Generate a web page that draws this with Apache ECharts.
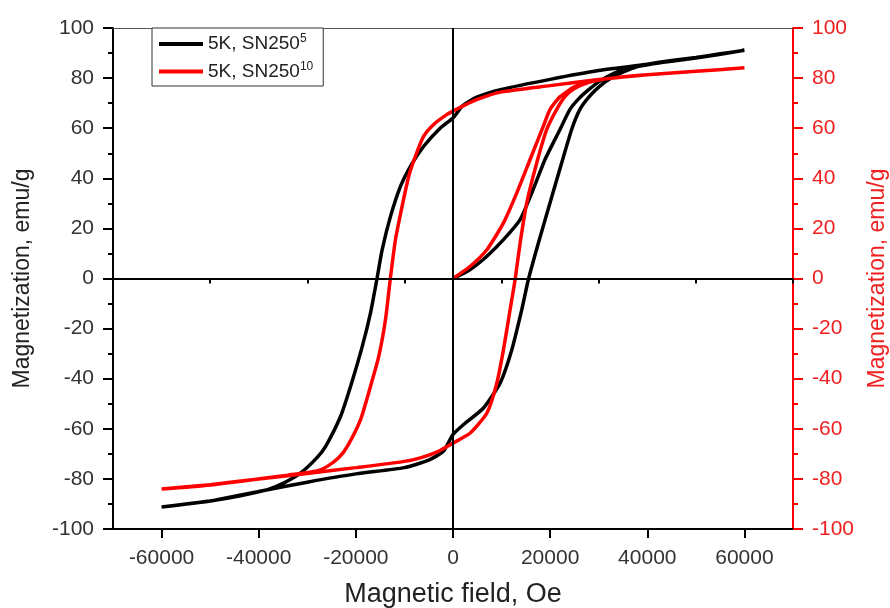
<!DOCTYPE html>
<html>
<head>
<meta charset="utf-8">
<script src="https://cdn.jsdelivr.net/npm/echarts@6/dist/echarts.min.js"></script>
<style>
html,body{margin:0;padding:0;background:#fff;}
#chart{width:890px;height:608px;}
</style>
</head>
<body>
<div id="chart"></div>
<script>
// ---- data (field in Oe, magnetization in emu/g), measured path: virgin -> descending -> ascending
const sn5Field = [0,3550,6980,10390,13820,16220,18950,22030,24080,26000,28000,30000,33000,36000,40000,45000,50000,55000,60000,
  50000,40000,30000,20000,10000,5000,2000,0,-2600,-6030,-8770,-10820,-12870,-14580,-15600,-16980,-18680,-21080,-23140,-26220,-28000,-31350,-35000,-38190,-44000,-50000,-55000,-60000,
  -50000,-40000,-30000,-20000,-10000,-5000,-2000,0,2180,6280,9710,12110,14160,15520,17580,19980,22380,24430,26130,28000,30240,33000,36000,38500,45000,50000,55000,60000];
const sn5Mag = [0,3.6,8.9,15.5,23.5,34.2,47.5,59.5,67.5,72,75.5,78.5,81.8,84,85.5,87,88.2,89.7,91.1,
  88,85.5,83,79.5,75.5,72.5,69,64.1,60.1,52.8,44.8,36.8,24.8,11.5,0.5,-13.7,-27.1,-43,-55,-67,-71.5,-77.6,-81.8,-84.3,-86.8,-88.8,-90,-91.2,
  -88.8,-85,-81.3,-78,-75.5,-72.5,-69,-62.3,-58.3,-51.7,-41.7,-28.4,-12.4,-0.4,14.2,30.2,46.2,59.5,67.5,72.5,76.8,80.5,83.2,84.8,86.8,88.2,89.7,91.1];

const sn10Field = [0,3550,6980,10390,13140,15870,18600,19980,22000,25000,28000,32000,40000,50000,60000,
  50000,40000,30000,20000,10000,5000,2000,0,-1230,-3980,-6030,-7740,-9110,-10480,-11850,-12870,-13900,-15270,-16980,-19030,-21760,-23500,-25870,-28000,-34000,-44000,-52000,-60000,
  -50000,-40000,-30000,-20000,-10000,-6720,-3000,0,3550,6980,9030,10390,11760,12790,13820,15190,17250,19300,21350,23000,25000,28000,32000,40000,50000,60000];
const sn10Mag = [0,4.9,11.5,22.2,34.2,47.5,60.8,67.5,72.5,76.5,78.5,79.8,81.3,82.7,84.1,
  82.7,81.3,79.4,77,74.5,71.5,68.8,66.8,65.5,61.5,56.8,48.8,40.8,28.8,15.5,0.5,-16.4,-31,-43,-56.3,-67,-71.5,-75,-76.8,-78.5,-81,-82.8,-84,
  -82.3,-80,-77.8,-75.5,-73,-71.6,-69,-65.7,-61.7,-53.7,-41.7,-28.4,-12.4,-0.4,14.2,30.2,46.2,59.5,67.5,72.5,75.8,78.3,79.8,81.3,82.7,84.1];

const xMajorTicks = [-60000,-40000,-20000,0,20000,40000,60000];
const xMinorTicks = [-70000,-50000,-30000,-10000,10000,30000,50000,70000];
const seriesNames = ['5K, SN250^5','5K, SN250^10'];
const legendSup = ['5','10'];

const zip = (a,b) => a.map((v,i)=>[v,b[i]]);

const chart = echarts.init(document.getElementById('chart'), null, {renderer:'canvas'});
const FONT = 'Liberation Sans, Arial, sans-serif';

const option = {
  animation: false,
  backgroundColor: '#fff',
  grid: {left: 113, right: 97, top: 28, bottom: 79, containLabel: false, outerBoundsMode: 'none'},
  legend: {
    orient: 'vertical',
    left: 152, top: 28,
    padding: [5, 10, 5, 7],
    itemGap: 7,
    itemWidth: 44, itemHeight: 4,
    icon: 'rect',
    backgroundColor: '#fff',
    borderColor: '#333', borderWidth: 1, borderRadius: 0,
    data: seriesNames,
    formatter: function(name){
      const i = seriesNames.indexOf(name);
      return '{t|5K, SN250}{s|' + legendSup[i] + '}';
    },
    textStyle: {
      fontFamily: FONT, color: '#222', fontSize: 19,
      rich: {
        t: {fontSize: 19, fontFamily: FONT, color: '#222'},
        s: {fontSize: 12, fontFamily: FONT, color: '#222', padding: [0,0,10,0]}
      }
    }
  },
  xAxis: [
    {
      type: 'value', position: 'bottom', min: -70000, max: 70000,
      name: 'Magnetic field, Oe', nameLocation: 'middle', nameGap: 52,
      nameTextStyle: {fontFamily: FONT, fontSize: 27, color: '#222'},
      axisLine: {show: true, onZero: false, lineStyle: {color: '#000', width: 2}},
      axisTick: {show: true, inside: false, length: 9, customValues: xMajorTicks, lineStyle: {color: '#000', width: 2}},
      axisLabel: {show: true, customValues: xMajorTicks, margin: 19, fontFamily: FONT, fontSize: 21, color: '#333',
        formatter: function(v){ return String(v); }},
      splitLine: {show: false}
    },
    {
      type: 'value', position: 'bottom', min: -70000, max: 70000,
      axisLine: {show: false},
      axisTick: {show: true, inside: false, length: 5, customValues: xMinorTicks, lineStyle: {color: '#000', width: 2}},
      axisLabel: {show: false},
      splitLine: {show: false}
    },
    {
      type: 'value', position: 'top', min: -70000, max: 70000,
      axisLine: {show: true, onZero: false, lineStyle: {color: '#555', width: 1}},
      axisTick: {show: false}, axisLabel: {show: false}, splitLine: {show: false}
    }
  ],
  yAxis: [
    {
      type: 'value', position: 'left', min: -100, max: 100, interval: 20,
      name: 'Magnetization, emu/g', nameLocation: 'middle', nameGap: 79, nameRotate: 90,
      nameTextStyle: {fontFamily: FONT, fontSize: 23, color: '#222'},
      axisLine: {show: true, onZero: false, lineStyle: {color: '#000', width: 2}},
      axisTick: {show: true, inside: false, length: 10, lineStyle: {color: '#000', width: 2}},
      minorTick: {show: true, splitNumber: 2, length: 5, lineStyle: {color: '#000', width: 2}},
      axisLabel: {margin: 19, fontFamily: FONT, fontSize: 21, color: '#333'},
      splitLine: {show: false}
    },
    {
      type: 'value', position: 'right', min: -100, max: 100, interval: 20,
      name: 'Magnetization, emu/g', nameLocation: 'middle', nameGap: 73, nameRotate: 90,
      nameTextStyle: {fontFamily: FONT, fontSize: 23, color: '#f02020'},
      axisLine: {show: true, onZero: false, lineStyle: {color: '#ff0000', width: 2}},
      axisTick: {show: true, inside: false, length: 10, lineStyle: {color: '#ff0000', width: 2}},
      minorTick: {show: true, splitNumber: 2, length: 5, lineStyle: {color: '#ff0000', width: 2}},
      axisLabel: {margin: 19, fontFamily: FONT, fontSize: 21, color: '#f02020'},
      splitLine: {show: false}
    }
  ],
  series: [
    {
      name: seriesNames[0], type: 'line', xAxisIndex: 0, yAxisIndex: 0,
      data: zip(sn5Field, sn5Mag), showSymbol: false, smooth: 0.2,
      lineStyle: {color: '#000', width: 3.5}, itemStyle: {color: '#000'},
      z: 3,
      markLine: {
        silent: true, symbol: 'none', label: {show: false},
        lineStyle: {color: '#000', width: 2, type: 'solid'},
        data: [{xAxis: 0}, {yAxis: 0}]
      }
    },
    {
      name: seriesNames[1], type: 'line', xAxisIndex: 0, yAxisIndex: 1,
      data: zip(sn10Field, sn10Mag), showSymbol: false, smooth: 0.2,
      lineStyle: {color: '#ff0000', width: 3.5}, itemStyle: {color: '#ff0000'},
      z: 4
    }
  ]
};
chart.setOption(option);
</script>
</body>
</html>
